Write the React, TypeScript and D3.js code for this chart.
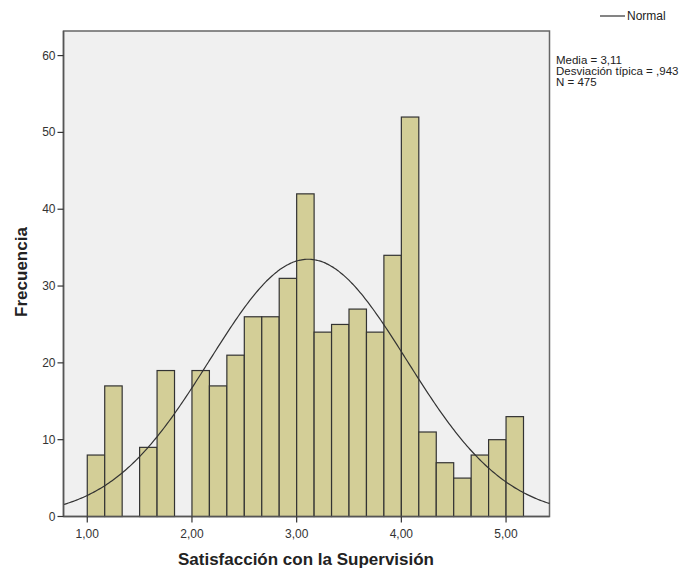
import React from "react";
import * as d3 from "d3";

const binStarts = [1.0, 1.1667, 1.3333, 1.5, 1.6667, 1.8333, 2.0, 2.1667, 2.3333, 2.5, 2.6667, 2.8333, 3.0, 3.1667, 3.3333, 3.5, 3.6667, 3.8333, 4.0, 4.1667, 4.3333, 4.5, 4.6667, 4.8333, 5.0];
const counts = [8, 17, 0, 9, 19, 0, 19, 17, 21, 26, 26, 31, 42, 24, 25, 27, 24, 34, 52, 11, 7, 5, 8, 10, 13];
const binWidth = 1 / 6;
const xTicks = [1, 2, 3, 4, 5];
const yTicks = [0, 10, 20, 30, 40, 50, 60];
const mean = 3.11;
const sd = 0.943;
const n = 475;
const statsLines = ["Media = 3,11", "Desviación típica = ,943", "N = 475"];

const W = 694;
const H = 571;
const left = 63.5;
const right = 549.5;
const top = 31;
const bottom = 516.5;

export default function App() {
  const x = d3.scaleLinear().domain([0.773, 5.415]).range([left, right]);
  const y = d3.scaleLinear().domain([0, 63.2]).range([bottom, top]);
  const fmt = (v: number) => v.toFixed(2).replace(".", ",");

  const curvePts: [number, number][] = d3.range(0, 301).map((i) => {
    const xv = 0.773 + (i / 300) * (5.415 - 0.773);
    const pdf = Math.exp(-0.5 * ((xv - mean) / sd) ** 2) / (sd * Math.sqrt(2 * Math.PI));
    return [xv, n * binWidth * pdf];
  });
  const line = d3
    .line<[number, number]>()
    .x((d) => x(d[0]))
    .y((d) => y(d[1]))
    .curve(d3.curveBasis);

  const font = "Arial, 'Liberation Sans', sans-serif";

  return (
    <svg width={W} height={H} style={{ position: "absolute", left: 0, top: 0, background: "#fff" }} fontFamily={font}>
      <rect x={left} y={top} width={right - left} height={bottom - top} fill="#f0f0f0" stroke="#666" strokeWidth={1.5} />
      {counts.map((c, i) =>
        c > 0 ? (
          <rect
            key={i}
            x={x(binStarts[i])}
            y={y(c)}
            width={x(binStarts[i] + binWidth) - x(binStarts[i])}
            height={y(0) - y(c)}
            fill="#d3ce97"
            stroke="#333"
            strokeWidth={1.2}
          />
        ) : null
      )}
      <path d={line(curvePts) || ""} fill="none" stroke="#333" strokeWidth={1.2} />
      <line x1={left} y1={top} x2={left} y2={bottom} stroke="#555" strokeWidth={1.5} />
      <line x1={left} y1={bottom} x2={right} y2={bottom} stroke="#555" strokeWidth={1.5} />
      {yTicks.map((t) => (
        <g key={t}>
          <line x1={left - 6} x2={left} y1={y(t)} y2={y(t)} stroke="#333" strokeWidth={1.2} />
          <text x={left - 8} y={y(t) + 4} textAnchor="end" fontSize={12} fill="#333">
            {t}
          </text>
        </g>
      ))}
      {xTicks.map((t) => (
        <g key={t}>
          <line x1={x(t)} x2={x(t)} y1={bottom} y2={bottom + 6} stroke="#333" strokeWidth={1.2} />
          <text x={x(t)} y={bottom + 21} textAnchor="middle" fontSize={12} fill="#333">
            {fmt(t)}
          </text>
        </g>
      ))}
      <text x={306} y={565} textAnchor="middle" fontSize={17} fontWeight="bold" fill="#222">
        Satisfacción con la Supervisión
      </text>
      <text transform={`translate(27,272) rotate(-90)`} textAnchor="middle" fontSize={17} fontWeight="bold" fill="#222">
        Frecuencia
      </text>
      <line x1={600} x2={625} y1={16} y2={16} stroke="#333" strokeWidth={1.2} />
      <text x={627} y={20} fontSize={12} fill="#222">
        Normal
      </text>
      {statsLines.map((s, i) => (
        <text key={i} x={556} y={64 + i * 11} fontSize={11.5} fill="#222">
          {s}
        </text>
      ))}
    </svg>
  );
}
